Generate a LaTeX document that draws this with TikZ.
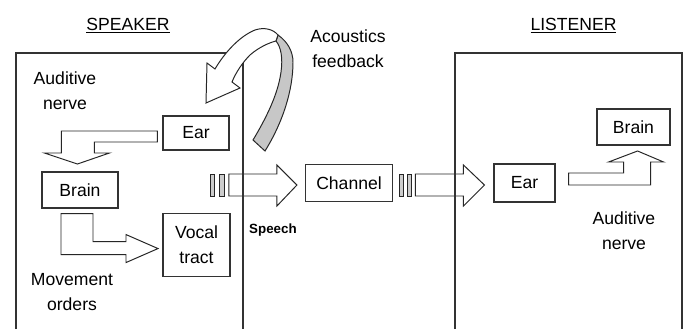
\documentclass[tikz,border=0pt]{standalone}
\usepackage{fontspec}
\setmainfont{Liberation Sans}
\usetikzlibrary{calc}
\newcommand\labfont{\fontsize{12.5}{17.5}\selectfont}

\begin{document}
\begin{tikzpicture}[
        x=0.025cm, y=-0.025cm,
        font=\labfont,
        line join=miter,
        % styles
        blockSize/.style 2 args={minimum width=#1*0.025cm, minimum height=#2*0.025cm},
        baseBlock/.style={rectangle, draw=black!80, line width=0.8pt, fill=white, align=center, inner sep=0pt},
        % label styles
        textLbl/.style={align=center, inner sep=0pt},
        headLbl/.style={anchor=base, inner sep=0pt},
        speechLbl/.style={font=\fontsize{9.5}{11}\selectfont\bfseries, inner sep=0pt},
        % arrow styles
        blockArrow/.style={draw=black!85, line width=0.7pt, fill=white},
        stripe/.style={draw=black!85, line width=0.7pt, fill=black!20},
        ribbon/.style={draw=black!85, line width=0.7pt, fill=black!22},
        frame/.style={draw=black!80, line width=0.8pt}
    ]

    \fill [white] (0,0) rectangle (689,329);
    \useasboundingbox (0,0) rectangle (689,329);

    % nodes

    % speaker side
    \node [baseBlock, blockSize={66}{34}] (earS) at (196,133) {Ear};
    \node [baseBlock, blockSize={76}{36}] (brainS) at (80,190) {Brain};
    \node [baseBlock, blockSize={67}{63}] (vocal) at (196.5,245) {Vocal\\tract};

    % transmission
    \node [baseBlock, blockSize={87}{37}] (channel) at (349,183) {Channel};

    % listener side
    \node [baseBlock, blockSize={61}{38}] (earL) at (524.5,183) {Ear};
    \node [baseBlock, blockSize={73}{36}] (brainL) at (633.5,127) {Brain};

    % labels
    \node [headLbl] (spkLbl) at (128,30) {\underline{SPEAKER}};
    \node [headLbl] (lstLbl) at (573.5,30) {\underline{LISTENER}};
    \node [textLbl] (nerveS) at (65,91) {Auditive\\nerve};
    \node [textLbl] (moveLbl) at (72,292) {Movement\\orders};
    \node [textLbl] (acouLbl) at (348,49) {Acoustics\\feedback};
    \node [textLbl] (nerveL) at (624,231) {Auditive\\nerve};
    \node [speechLbl] (speechLbl) at (273,230) {Speech};

    % connections

    % ear -> brain (speaker)
    \draw [blockArrow] ([shift={(-5,-2)}]earS.west) -- ++(-96,0) -- ++(0,22) -- ++(-17,0)
        -- ++(33,11) -- ++(32,-11) -- ++(-15,0) -- ++(0,-11) -- ++(63,0) -- cycle;

    % brain -> vocal tract
    \draw [blockArrow] ([shift={(-19,5)}]brainS.south) -- ++(0,41) -- ++(65,0) -- ++(0,8)
        -- ++(32,-14) -- ++(-32,-14) -- ++(0,7) -- ++(-33,0) -- ++(0,-28) -- cycle;

    % speech -> channel
    \draw [blockArrow] ([shift={(-8,2)}]channel.west) -- ++(-20,-20) -- ++(0,9)
        -- ++(-48,0) coordinate (spBack) -- ++(0,22) -- ++(48,0) -- ++(0,10) -- cycle;
    \draw [stripe] ([xshift=-13]spBack) rectangle ++(4,22);
    \draw [stripe] ([xshift=-7]spBack) rectangle ++(5,22);

    % channel -> ear (listener)
    \draw [blockArrow] ([shift={(-9,2)}]earL.west) -- ++(-21,-20) -- ++(0,9)
        -- ++(-48,0) coordinate (chBack) -- ++(0,22) -- ++(48,0) -- ++(0,10) -- cycle;
    \draw [stripe] ([xshift=-11]chBack) rectangle ++(4,22);
    \draw [stripe] ([xshift=-6]chBack) rectangle ++(4,22);

    % ear -> brain (listener)
    \draw [blockArrow] ([shift={(13,-10)}]earL.east) -- ++(55,0) -- ++(0,-11) -- ++(-15,0)
        -- ++(29,-11) -- ++(26,11) -- ++(-13,0) -- ++(0,23) -- ++(-82,0) -- cycle;

    % containers
    \draw [frame] (16,329) |- (243,53) -- (243,329);
    \draw [frame] (455,329) |- (682,53) -- (682,329);

    % acoustics feedback, back of the ribbon
    \draw [ribbon] (278,35) .. controls (288,42) and (293,52) .. (293,62)
        .. controls (293,90) and (283,122) .. (265,151) -- (253,140)
        .. controls (265,120) and (278,95) .. (281,72)
        .. controls (283,58) and (281,47) .. (276,41) -- cycle;
    % front of the ribbon, head onto the ear
    \draw [blockArrow] (215,69) .. controls (225,52) and (240,36) .. (255,30)
        .. controls (264,27) and (273,29) .. (278,35) -- (276,41)
        .. controls (268,43) and (258,48) .. (250,55)
        .. controls (243,62) and (236,72) .. (232,82)
        -- (240,88) -- (206,103) -- (207,63) -- cycle;

\end{tikzpicture}
\end{document}
